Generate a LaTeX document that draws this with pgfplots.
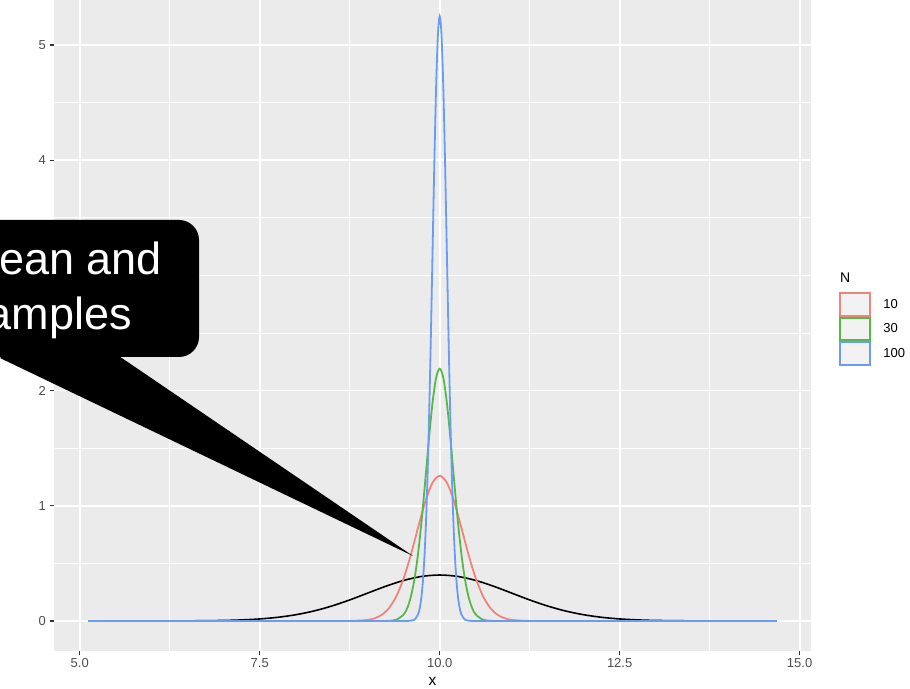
\documentclass[border=0pt]{standalone}
\usepackage{pgfplots}
\pgfplotsset{compat=1.18}
\usepackage{fontspec}
\setmainfont{Liberation Sans}
\definecolor{ggbg}{HTML}{EBEBEB}
\definecolor{ggred}{HTML}{EE847A}
\definecolor{gggreen}{HTML}{57B84A}
\definecolor{ggblue}{HTML}{6A9CF5}
\definecolor{ggtext}{HTML}{4D4D4D}
\definecolor{ggtick}{HTML}{333333}
\definecolor{ggkey}{HTML}{F2F2F2}
\begin{document}
\begin{tikzpicture}[x=1pt,y=1pt]
\useasboundingbox (0,0) rectangle (910,688);
\clip (0,0) rectangle (910,688);
\begin{axis}[
  at={(54pt,36.8pt)}, anchor=south west,
  scale only axis, width=757pt, height=651.2pt,
  xmin=4.642, xmax=15.158, ymin=-0.2625, ymax=5.391,
  axis background/.style={fill=ggbg},
  axis line style={draw=none},
  xtick={5,7.5,10,12.5,15}, xticklabels={5.0,7.5,10.0,12.5,15.0},
  minor xtick={6.25,8.75,11.25,13.75},
  ytick={0,1,2,3,4,5}, yticklabels={0,1,2,3,4,5},
  minor ytick={0.5,1.5,2.5,3.5,4.5},
  grid=both,
  major grid style={white, line width=1.8pt},
  minor grid style={white, line width=0.9pt},
  tick align=outside, tick pos=left,
  major tick length=4pt, minor tick length=0pt,
  tick style={ggtick, line width=1.1pt},
  ticklabel style={font=\fontsize{13}{15}\selectfont, text=ggtext},
  /pgf/number format/assume math mode=true,
  xticklabel style={inner sep=0pt, yshift=-3pt},
  yticklabel style={inner sep=0pt, xshift=-4pt},
  xlabel={x},
  xlabel style={font=\fontsize{15.5}{18}\selectfont, at={(axis description cs:0.5,0)}, anchor=base, yshift=-34.3pt, inner sep=0pt},
  legend style={at={(axis description cs:1.037,0.5516)}, anchor=north west, draw=none, fill=none, inner sep=0pt, outer sep=0pt, row sep=0pt, column sep=12pt, font=\fontsize{13}{15}\selectfont, nodes={inner sep=0pt, anchor=west}},
  legend cell align=left,
  legend image code/.code={\path (-0.75pt,-11.45pt) rectangle (29.75pt,11.45pt); \draw[#1, line width=1.5pt, fill=ggkey] (0pt,-11pt) rectangle (29pt,11pt);},
]
\addplot[black, line width=1.6pt, smooth, forget plot] coordinates {
(5.12,0) (6.0,0.00013) (6.5,0.00087) (7.0,0.0044) (7.25,0.0091) (7.5,0.0175) (7.75,0.0317)
(8.0,0.0540) (8.25,0.0863) (8.5,0.1295) (8.75,0.1826) (9.0,0.2420) (9.25,0.3011) (9.5,0.3521)
(9.75,0.3867) (10.0,0.3989) (10.25,0.3867) (10.5,0.3521) (10.75,0.3011) (11.0,0.2420)
(11.25,0.1826) (11.5,0.1295) (11.75,0.0863) (12.0,0.0540) (12.25,0.0317) (12.5,0.0175)
(12.75,0.0091) (13.0,0.0044) (13.5,0.00087) (14.0,0.00013) (14.68,0)};
\addplot[ggred, line width=1.8pt, smooth] coordinates {
(5.12,0) (7.0,0) (8.0,0) (8.5,0) (8.8,0.0011) (9.0,0.0095) (9.1,0.0241) (9.2,0.0553)
(9.3,0.1151) (9.4,0.2172) (9.5,0.3717) (9.6,0.5768) (9.7,0.8119) (9.8,1.0365) (9.9,1.200)
(10.0,1.26) (10.1,1.200) (10.2,1.0365) (10.3,0.8119) (10.4,0.5768) (10.5,0.3717) (10.6,0.2172)
(10.7,0.1151) (10.8,0.0553) (10.9,0.0241) (11.0,0.0095) (11.2,0.0011) (11.5,0) (12.0,0)
(13.0,0) (14.68,0)};
\addlegendentry{10}
\addplot[gggreen, line width=1.8pt, smooth] coordinates {
(5.12,0) (7.0,0) (8.0,0) (8.6,0) (9.0,0) (9.2,0.0001) (9.3,0.0017) (9.4,0.0114) (9.5,0.0567)
(9.55,0.1137) (9.6,0.2116) (9.65,0.366) (9.7,0.588) (9.75,0.879) (9.8,1.221) (9.85,1.577)
(9.9,1.892) (9.95,2.111) (10.0,2.19) (10.05,2.111) (10.1,1.892) (10.15,1.577) (10.2,1.221)
(10.25,0.879) (10.3,0.588) (10.35,0.366) (10.4,0.2116) (10.45,0.1137) (10.5,0.0567)
(10.6,0.0114) (10.7,0.0017) (10.8,0.0001) (11.0,0) (11.4,0) (12.0,0) (13.0,0) (14.68,0)};
\addlegendentry{30}
\addplot[ggblue, line width=1.8pt, smooth] coordinates {
(5.12,0) (7.0,0) (8.0,0) (8.8,0) (9.2,0) (9.4,0) (9.5,0) (9.6,0.0018) (9.65,0.0115)
(9.7,0.0583) (9.725,0.1196) (9.75,0.2305) (9.775,0.418) (9.8,0.710) (9.825,1.136)
(9.85,1.705) (9.875,2.403) (9.9,3.184) (9.925,3.963) (9.95,4.633) (9.975,5.088) (10.0,5.25)
(10.025,5.088) (10.05,4.633) (10.075,3.963) (10.1,3.184) (10.125,2.403) (10.15,1.705)
(10.175,1.136) (10.2,0.710) (10.225,0.418) (10.25,0.2305) (10.275,0.1196) (10.3,0.0583)
(10.35,0.0115) (10.4,0.0018) (10.5,0) (10.6,0) (10.8,0) (11.2,0) (12.0,0) (13.0,0) (14.68,0)};
\addlegendentry{100}
\end{axis}
\node[anchor=west, inner sep=0pt, font=\fontsize{14}{16}\selectfont] at (840,410) {N};
\fill[black, rounded corners=20pt] (-40,331) rectangle (199,468);
\fill[black] (0,330) -- (60,372) -- (413,132) -- cycle;
\node[anchor=base east, inner sep=0pt, text=white, font=\fontsize{45}{54}\selectfont] at (162,413) {ean and};
\node[anchor=base east, inner sep=0pt, text=white, font=\fontsize{45}{54}\selectfont] at (132,358) {amples};
\end{tikzpicture}
\end{document}
